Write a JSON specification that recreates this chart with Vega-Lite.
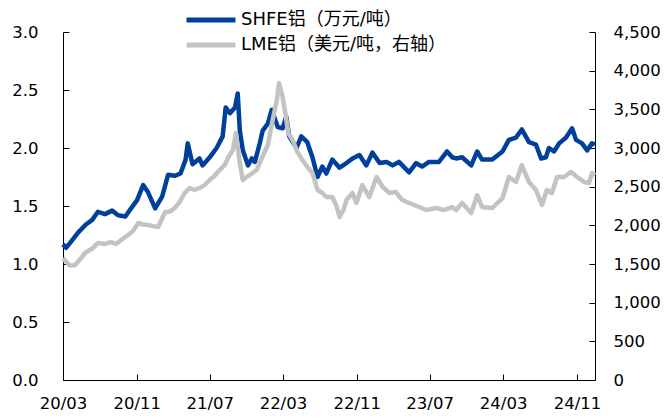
{
  "$schema": "https://vega.github.io/schema/vega-lite/v6.json",
  "width": 532,
  "height": 348,
  "autosize": {"type": "none"},
  "padding": {"left": 63, "top": 32, "right": 69, "bottom": 40},
  "background": "#ffffff",
  "config": {
    "view": {"stroke": null},
    "font": "DejaVu Sans",
    "axis": {
      "labelFont": "DejaVu Sans",
      "labelFontSize": 16.5,
      "labelColor": "#000000",
      "domainColor": "#000000",
      "tickColor": "#000000",
      "tickSize": -6,
      "grid": false,
      "title": null
    }
  },
  "data": {
    "format": {"parse": {"d": "utc:'%Y-%m-%d'"}},
    "values": [
      {"d": "2020-03-01", "s": "S", "v": 1.17},
      {"d": "2020-03-11", "s": "S", "v": 1.14},
      {"d": "2020-03-24", "s": "S", "v": 1.18},
      {"d": "2020-04-20", "s": "S", "v": 1.27},
      {"d": "2020-05-16", "s": "S", "v": 1.34},
      {"d": "2020-06-06", "s": "S", "v": 1.38},
      {"d": "2020-06-25", "s": "S", "v": 1.45},
      {"d": "2020-07-18", "s": "S", "v": 1.43},
      {"d": "2020-08-11", "s": "S", "v": 1.46},
      {"d": "2020-08-31", "s": "S", "v": 1.42},
      {"d": "2020-09-24", "s": "S", "v": 1.41},
      {"d": "2020-10-13", "s": "S", "v": 1.48},
      {"d": "2020-11-02", "s": "S", "v": 1.55},
      {"d": "2020-11-22", "s": "S", "v": 1.68},
      {"d": "2020-12-08", "s": "S", "v": 1.62},
      {"d": "2021-01-01", "s": "S", "v": 1.48},
      {"d": "2021-01-24", "s": "S", "v": 1.58},
      {"d": "2021-02-13", "s": "S", "v": 1.77},
      {"d": "2021-03-07", "s": "S", "v": 1.76},
      {"d": "2021-03-26", "s": "S", "v": 1.78},
      {"d": "2021-04-12", "s": "S", "v": 1.9},
      {"d": "2021-04-19", "s": "S", "v": 2.04},
      {"d": "2021-05-05", "s": "S", "v": 1.86},
      {"d": "2021-05-28", "s": "S", "v": 1.91},
      {"d": "2021-06-07", "s": "S", "v": 1.85},
      {"d": "2021-07-01", "s": "S", "v": 1.92},
      {"d": "2021-07-24", "s": "S", "v": 2.0},
      {"d": "2021-08-13", "s": "S", "v": 2.1},
      {"d": "2021-08-23", "s": "S", "v": 2.35},
      {"d": "2021-09-06", "s": "S", "v": 2.3},
      {"d": "2021-09-23", "s": "S", "v": 2.35},
      {"d": "2021-10-02", "s": "S", "v": 2.47},
      {"d": "2021-10-09", "s": "S", "v": 2.15},
      {"d": "2021-10-19", "s": "S", "v": 1.98},
      {"d": "2021-11-05", "s": "S", "v": 1.85},
      {"d": "2021-11-18", "s": "S", "v": 1.91},
      {"d": "2021-11-28", "s": "S", "v": 1.88},
      {"d": "2021-12-14", "s": "S", "v": 2.04},
      {"d": "2021-12-24", "s": "S", "v": 2.15},
      {"d": "2022-01-10", "s": "S", "v": 2.21},
      {"d": "2022-01-23", "s": "S", "v": 2.33},
      {"d": "2022-02-12", "s": "S", "v": 2.18},
      {"d": "2022-02-28", "s": "S", "v": 2.17},
      {"d": "2022-03-12", "s": "S", "v": 2.27},
      {"d": "2022-03-22", "s": "S", "v": 2.1},
      {"d": "2022-04-15", "s": "S", "v": 2.0},
      {"d": "2022-05-01", "s": "S", "v": 2.1},
      {"d": "2022-05-21", "s": "S", "v": 2.05},
      {"d": "2022-06-07", "s": "S", "v": 1.92},
      {"d": "2022-06-24", "s": "S", "v": 1.75},
      {"d": "2022-07-10", "s": "S", "v": 1.84},
      {"d": "2022-07-23", "s": "S", "v": 1.78},
      {"d": "2022-08-12", "s": "S", "v": 1.9},
      {"d": "2022-09-05", "s": "S", "v": 1.83},
      {"d": "2022-09-28", "s": "S", "v": 1.87},
      {"d": "2022-10-18", "s": "S", "v": 1.91},
      {"d": "2022-11-10", "s": "S", "v": 1.94},
      {"d": "2022-12-03", "s": "S", "v": 1.85},
      {"d": "2022-12-23", "s": "S", "v": 1.96},
      {"d": "2023-01-16", "s": "S", "v": 1.87},
      {"d": "2023-02-08", "s": "S", "v": 1.88},
      {"d": "2023-02-28", "s": "S", "v": 1.85},
      {"d": "2023-03-21", "s": "S", "v": 1.88},
      {"d": "2023-04-24", "s": "S", "v": 1.79},
      {"d": "2023-05-17", "s": "S", "v": 1.87},
      {"d": "2023-06-06", "s": "S", "v": 1.84},
      {"d": "2023-06-29", "s": "S", "v": 1.88},
      {"d": "2023-08-01", "s": "S", "v": 1.88},
      {"d": "2023-08-28", "s": "S", "v": 1.97},
      {"d": "2023-09-14", "s": "S", "v": 1.92},
      {"d": "2023-09-27", "s": "S", "v": 1.91},
      {"d": "2023-10-17", "s": "S", "v": 1.92},
      {"d": "2023-11-16", "s": "S", "v": 1.85},
      {"d": "2023-12-06", "s": "S", "v": 1.97},
      {"d": "2023-12-22", "s": "S", "v": 1.9},
      {"d": "2024-01-25", "s": "S", "v": 1.9},
      {"d": "2024-02-28", "s": "S", "v": 1.97},
      {"d": "2024-03-20", "s": "S", "v": 2.07},
      {"d": "2024-04-13", "s": "S", "v": 2.09},
      {"d": "2024-05-02", "s": "S", "v": 2.16},
      {"d": "2024-05-26", "s": "S", "v": 2.05},
      {"d": "2024-06-18", "s": "S", "v": 2.03},
      {"d": "2024-07-05", "s": "S", "v": 1.91},
      {"d": "2024-07-21", "s": "S", "v": 1.92},
      {"d": "2024-07-31", "s": "S", "v": 2.0},
      {"d": "2024-08-17", "s": "S", "v": 1.97},
      {"d": "2024-09-03", "s": "S", "v": 2.04},
      {"d": "2024-09-26", "s": "S", "v": 2.09},
      {"d": "2024-10-16", "s": "S", "v": 2.17},
      {"d": "2024-10-29", "s": "S", "v": 2.07},
      {"d": "2024-11-18", "s": "S", "v": 2.04},
      {"d": "2024-12-05", "s": "S", "v": 1.98},
      {"d": "2024-12-21", "s": "S", "v": 2.04},
      {"d": "2024-12-31", "s": "S", "v": 2.03},
      {"d": "2020-03-01", "s": "L", "v": 1578},
      {"d": "2020-03-11", "s": "L", "v": 1530},
      {"d": "2020-03-24", "s": "L", "v": 1480},
      {"d": "2020-04-10", "s": "L", "v": 1487},
      {"d": "2020-04-27", "s": "L", "v": 1560},
      {"d": "2020-05-13", "s": "L", "v": 1642},
      {"d": "2020-06-06", "s": "L", "v": 1700},
      {"d": "2020-06-25", "s": "L", "v": 1771},
      {"d": "2020-07-18", "s": "L", "v": 1760},
      {"d": "2020-08-07", "s": "L", "v": 1784},
      {"d": "2020-08-24", "s": "L", "v": 1760},
      {"d": "2020-09-10", "s": "L", "v": 1810},
      {"d": "2020-10-03", "s": "L", "v": 1875},
      {"d": "2020-10-20", "s": "L", "v": 1930},
      {"d": "2020-11-06", "s": "L", "v": 2030},
      {"d": "2020-11-22", "s": "L", "v": 2010},
      {"d": "2020-12-08", "s": "L", "v": 2004},
      {"d": "2020-12-25", "s": "L", "v": 1990},
      {"d": "2021-01-11", "s": "L", "v": 1978},
      {"d": "2021-02-03", "s": "L", "v": 2172},
      {"d": "2021-02-20", "s": "L", "v": 2180},
      {"d": "2021-03-07", "s": "L", "v": 2224},
      {"d": "2021-03-23", "s": "L", "v": 2300},
      {"d": "2021-04-09", "s": "L", "v": 2418},
      {"d": "2021-04-25", "s": "L", "v": 2483},
      {"d": "2021-05-12", "s": "L", "v": 2457},
      {"d": "2021-05-28", "s": "L", "v": 2483},
      {"d": "2021-06-14", "s": "L", "v": 2520},
      {"d": "2021-07-01", "s": "L", "v": 2586},
      {"d": "2021-07-17", "s": "L", "v": 2640},
      {"d": "2021-08-03", "s": "L", "v": 2715},
      {"d": "2021-08-20", "s": "L", "v": 2780},
      {"d": "2021-08-30", "s": "L", "v": 2870},
      {"d": "2021-09-16", "s": "L", "v": 2974},
      {"d": "2021-09-26", "s": "L", "v": 3194},
      {"d": "2021-10-09", "s": "L", "v": 2806},
      {"d": "2021-10-19", "s": "L", "v": 2586},
      {"d": "2021-10-29", "s": "L", "v": 2620},
      {"d": "2021-11-11", "s": "L", "v": 2651},
      {"d": "2021-12-04", "s": "L", "v": 2715},
      {"d": "2021-12-21", "s": "L", "v": 2870},
      {"d": "2022-01-10", "s": "L", "v": 3039},
      {"d": "2022-01-26", "s": "L", "v": 3362},
      {"d": "2022-02-09", "s": "L", "v": 3620},
      {"d": "2022-02-16", "s": "L", "v": 3840},
      {"d": "2022-02-22", "s": "L", "v": 3750},
      {"d": "2022-02-28", "s": "L", "v": 3659},
      {"d": "2022-03-09", "s": "L", "v": 3452},
      {"d": "2022-03-19", "s": "L", "v": 3194},
      {"d": "2022-04-02", "s": "L", "v": 3103},
      {"d": "2022-04-18", "s": "L", "v": 2948},
      {"d": "2022-05-05", "s": "L", "v": 2845},
      {"d": "2022-05-21", "s": "L", "v": 2754},
      {"d": "2022-06-07", "s": "L", "v": 2677},
      {"d": "2022-06-24", "s": "L", "v": 2457},
      {"d": "2022-07-10", "s": "L", "v": 2418},
      {"d": "2022-07-23", "s": "L", "v": 2366},
      {"d": "2022-08-12", "s": "L", "v": 2366},
      {"d": "2022-08-26", "s": "L", "v": 2250},
      {"d": "2022-09-05", "s": "L", "v": 2108},
      {"d": "2022-09-18", "s": "L", "v": 2200},
      {"d": "2022-09-28", "s": "L", "v": 2327},
      {"d": "2022-10-18", "s": "L", "v": 2418},
      {"d": "2022-10-31", "s": "L", "v": 2289},
      {"d": "2022-11-20", "s": "L", "v": 2521},
      {"d": "2022-12-13", "s": "L", "v": 2366},
      {"d": "2023-01-06", "s": "L", "v": 2625},
      {"d": "2023-01-26", "s": "L", "v": 2496},
      {"d": "2023-02-18", "s": "L", "v": 2418},
      {"d": "2023-03-11", "s": "L", "v": 2431},
      {"d": "2023-04-01", "s": "L", "v": 2327},
      {"d": "2023-04-24", "s": "L", "v": 2289},
      {"d": "2023-05-27", "s": "L", "v": 2237},
      {"d": "2023-06-19", "s": "L", "v": 2198},
      {"d": "2023-07-22", "s": "L", "v": 2224},
      {"d": "2023-08-17", "s": "L", "v": 2198},
      {"d": "2023-09-14", "s": "L", "v": 2237},
      {"d": "2023-09-27", "s": "L", "v": 2198},
      {"d": "2023-10-17", "s": "L", "v": 2289},
      {"d": "2023-11-16", "s": "L", "v": 2159},
      {"d": "2023-12-06", "s": "L", "v": 2392},
      {"d": "2023-12-22", "s": "L", "v": 2237},
      {"d": "2024-01-25", "s": "L", "v": 2224},
      {"d": "2024-02-28", "s": "L", "v": 2353},
      {"d": "2024-03-20", "s": "L", "v": 2625},
      {"d": "2024-04-13", "s": "L", "v": 2560},
      {"d": "2024-05-02", "s": "L", "v": 2780},
      {"d": "2024-05-26", "s": "L", "v": 2560},
      {"d": "2024-06-18", "s": "L", "v": 2457},
      {"d": "2024-07-08", "s": "L", "v": 2263},
      {"d": "2024-07-24", "s": "L", "v": 2457},
      {"d": "2024-08-10", "s": "L", "v": 2418},
      {"d": "2024-08-27", "s": "L", "v": 2625},
      {"d": "2024-09-19", "s": "L", "v": 2625},
      {"d": "2024-10-12", "s": "L", "v": 2690},
      {"d": "2024-11-02", "s": "L", "v": 2625},
      {"d": "2024-11-25", "s": "L", "v": 2560},
      {"d": "2024-12-11", "s": "L", "v": 2547},
      {"d": "2024-12-21", "s": "L", "v": 2677},
      {"d": "2024-12-31", "s": "L", "v": 2650}
    ]
  },
  "encoding": {
    "x": {
      "field": "d",
      "type": "temporal",
      "scale": {
        "type": "utc",
        "domain": [
          {"year": 2020, "month": 3, "date": 1, "utc": true},
          {"year": 2024, "month": 12, "date": 31, "utc": true}
        ],
        "nice": false
      },
      "axis": {
        "values": [
          {"year": 2020, "month": 3, "date": 1, "utc": true},
          {"year": 2020, "month": 11, "date": 1, "utc": true},
          {"year": 2021, "month": 7, "date": 1, "utc": true},
          {"year": 2022, "month": 3, "date": 1, "utc": true},
          {"year": 2022, "month": 11, "date": 1, "utc": true},
          {"year": 2023, "month": 7, "date": 1, "utc": true},
          {"year": 2024, "month": 3, "date": 1, "utc": true},
          {"year": 2024, "month": 11, "date": 1, "utc": true}
        ],
        "labelExpr": "utcFormat(datum.value, '%y/%m')",
        "labelFlush": false,
        "labelOverlap": false,
        "labelPadding": 21
      }
    },
    "color": {
      "field": "s",
      "type": "nominal",
      "scale": {"domain": ["S", "L"], "range": ["#00409A", "#C3C3C3"]},
      "legend": {
        "title": null,
        "orient": "none",
        "legendX": 139,
        "legendY": -21,
        "direction": "vertical",
        "symbolType": "M-4.9,0H4.9",
        "symbolSize": 100,
        "symbolStrokeWidth": 5,
        "labelOffset": 21,
        "rowPadding": 5,
        "labelFont": "DejaVu Sans, Noto Sans CJK SC",
        "labelFontSize": 18,
        "labelColor": "#000000",
        "labelLimit": 400,
        "labelExpr": "datum.value === 'S' ? 'SHFE铝（万元/吨）' : 'LME铝（美元/吨，右轴）'"
      }
    }
  },
  "layer": [
    {
      "transform": [{"filter": "datum.s === 'S'"}],
      "mark": {"type": "line", "strokeWidth": 4.5, "strokeJoin": "round"},
      "encoding": {
        "y": {
          "field": "v",
          "type": "quantitative",
          "scale": {"domain": [0, 3], "nice": false},
          "axis": {
            "orient": "left",
            "values": [0, 0.5, 1, 1.5, 2, 2.5, 3],
            "format": ".1f",
            "labelPadding": 31
          }
        }
      }
    },
    {
      "transform": [{"filter": "datum.s === 'L'"}],
      "mark": {"type": "line", "strokeWidth": 4.5, "strokeJoin": "round"},
      "encoding": {
        "y": {
          "field": "v",
          "type": "quantitative",
          "scale": {"domain": [0, 4500], "nice": false},
          "axis": {
            "orient": "right",
            "values": [0, 500, 1000, 1500, 2000, 2500, 3000, 3500, 4000, 4500],
            "format": ",.0f",
            "labelPadding": 24
          }
        }
      }
    }
  ],
  "resolve": {"scale": {"y": "independent"}}
}
